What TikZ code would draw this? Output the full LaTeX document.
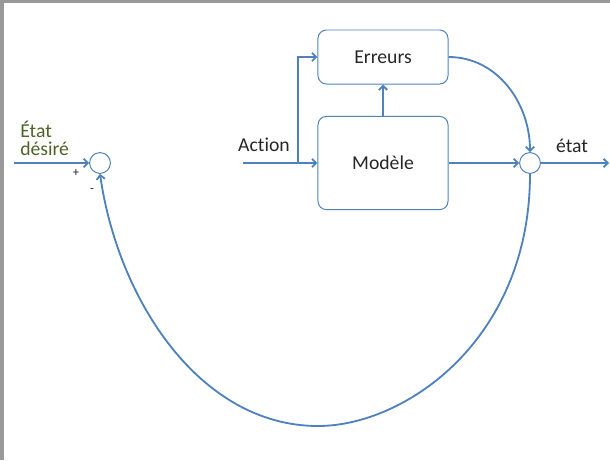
\documentclass[tikz,border=0pt]{standalone}
\usepackage{fontspec}
\setmainfont{Carlito}[Ligatures=NoCommon]
\usepackage{xcolor}
\usetikzlibrary{positioning, calc, arrows.meta}

\definecolor{bleu}{HTML}{4F81BD}
\definecolor{vertolive}{HTML}{4F6228}

\begin{document}
\begin{tikzpicture}[x=0.025cm, y=-0.025cm,
  every node/.style={font=\fontsize{14}{17}\selectfont, text=black!85},
  bloc/.style={draw=bleu, line width=0.7pt, rounded corners=6pt, minimum width=3.25cm},
  somme/.style={circle, draw=bleu, line width=0.7pt, minimum size=0.52cm, inner sep=0pt},
  lien/.style={draw=bleu, line width=1.3pt, -{Straight Barb[length=3pt,width=6pt]}},
  signe/.style={font=\fontsize{9}{10}\selectfont}]

\useasboundingbox (0,0) rectangle (610,460);

% grey frame along the top and left edges
\fill[black!40] (0,0) rectangle (4,460);
\fill[black!40] (0,0) rectangle (610,3);

\node[bloc, minimum height=1.35cm] (erreurs) at (383,57) {Erreurs};
\node[bloc, minimum height=2.33cm] (modele) at (383,163) {Modèle};
\node[somme] (sommeG) at (100,163) {};
\node[somme] (sommeD) at (530,163) {};

\coordinate (consigne) at (14,163);
\coordinate (action)   at (243,163);
\coordinate (branche)  at (298,163);
\coordinate (sortie)   at (609,163);
\coordinate (bas)      at (318,426);

\draw[lien] (consigne) -- (sommeG);
\draw[lien] (action) -- (modele);
\draw[lien] (branche) |- (erreurs);
\draw[lien] (modele) -- (erreurs);
\draw[lien] (modele) -- (sommeD);
\draw[lien] (erreurs.east) to[out=0, in=90] (sommeD.north);
\draw[lien] (sommeD) -- (sortie);

% feedback loop under the blocks
\draw[lien] (sommeD.south) .. controls (530,340) and (405,426) .. (bas)
            .. controls (200,426) and (118,300) .. (sommeG.south);

\node[text=vertolive, align=left, anchor=north west, inner sep=0pt,
      font=\fontsize{14}{12.5}\selectfont] (etatdesire) at (20,121) {État\\désiré};
\node (lblaction) at (264,145) {Action};
\node (lbletat)   at (572,146) {état};
\node[signe] (plus)  at (76,173) {+};
\node[signe] (moins) at (92,190) {-};

\end{tikzpicture}
\end{document}
